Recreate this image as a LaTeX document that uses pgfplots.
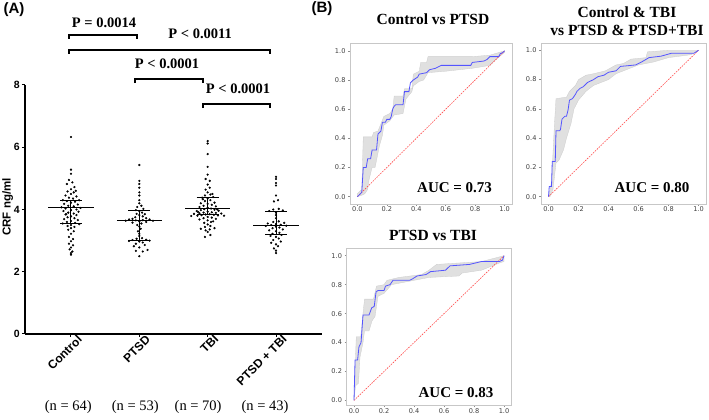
\documentclass[border=0pt]{standalone}
\usepackage{pgfplots}
\usepackage{pgfplotstable}
\pgfplotsset{compat=1.18}
\usepackage{fontspec}
\setmainfont{Liberation Serif}
\newfontfamily\arial{Liberation Sans}
\newfontfamily\dejavu{DejaVu Sans}

\pgfplotstableread{
x y
0 6.33
0 5.28
0 5.15
-0.03 4.95
0.02 4.87
-0.06 4.82
0.05 4.72
0 4.65
0.07 4.6
-0.05 4.58
0.04 4.55
0 4.5
-0.08 4.45
0.08 4.42
-0.03 4.38
0.03 4.35
-0.12 4.3
0.12 4.3
-0.06 4.27
0.06 4.25
0 4.22
-0.1 4.18
0.1 4.16
-0.04 4.12
0.04 4.1
-0.14 4.07
0.14 4.05
-0.08 4.03
0.08 4.0
0 3.98
-0.11 3.95
0.11 3.93
-0.04 3.9
0.04 3.87
-0.07 3.85
-0.08 3.84
0.08 3.82
0 3.78
-0.05 3.75
0.05 3.72
-0.1 3.69
0.1 3.66
0 3.63
-0.06 3.6
0.06 3.57
-0.12 3.55
0.12 3.53
0 3.5
-0.05 3.47
0.05 3.44
0 3.4
-0.04 3.35
0.04 3.3
0 3.22
-0.03 3.12
0.03 3.05
0 2.98
-0.03 2.9
0.03 2.85
0 2.78
-0.02 2.72
0.02 2.65
0 2.6
0 2.55
}\ctrl

\pgfplotstableread{
x y
0 5.43
0 4.92
0 4.82
0 4.7
0 4.55
0 4.45
0 4.3
0 4.2
0.03 4.12
-0.03 4.08
0.06 4.02
-0.05 3.98
0 3.95
0.04 3.9
-0.04 3.86
0.08 3.85
0 3.82
0.05 3.78
-0.06 3.75
0.1 3.72
-0.1 3.7
0.15 3.68
-0.15 3.68
0.05 3.66
-0.05 3.65
0.2 3.64
-0.2 3.64
0 3.62
0.1 3.6
-0.1 3.58
0.03 3.55
-0.03 3.5
0 3.45
0.02 3.38
-0.02 3.3
0 3.22
0 3.15
0.04 3.08
-0.04 3.06
0.1 3.03
-0.1 3.02
0.15 3.0
-0.15 2.99
0 2.97
0.05 2.94
-0.05 2.9
0.08 2.86
-0.08 2.82
0 2.78
0.12 2.7
-0.05 2.67
0.05 2.65
0 2.5
}\ptsd

\pgfplotstableread{
x y
0 6.2
0 6.12
0 5.78
0 5.37
0 5.12
-0.03 4.98
0.03 4.92
0 4.8
0.03 4.7
-0.03 4.64
0 4.55
0.07 4.5
0.04 4.48
-0.04 4.45
0.08 4.4
-0.08 4.38
0 4.35
-0.07 4.33
0.04 4.3
-0.04 4.27
0.1 4.22
-0.1 4.2
0 4.18
0.06 4.15
-0.06 4.12
0.12 4.1
-0.12 4.08
0 4.06
0.05 4.03
-0.05 4.01
0.14 4.0
0.1 3.99
-0.1 3.98
0.16 3.96
-0.16 3.95
0 3.93
-0.14 3.92
0.06 3.91
-0.06 3.9
0.12 3.89
-0.12 3.88
0.2 3.87
-0.2 3.86
0.03 3.85
-0.03 3.84
0.09 3.83
-0.09 3.82
0.15 3.81
-0.15 3.8
0.24 3.8
-0.24 3.79
0 3.76
0.06 3.74
-0.06 3.72
0.12 3.7
-0.12 3.68
0 3.65
0.08 3.62
0.05 3.6
-0.05 3.57
0 3.52
0.04 3.47
-0.04 3.44
0.1 3.4
-0.1 3.38
0.03 3.36
-0.03 3.33
0 3.28
0.04 3.18
-0.04 3.12
}\tbi

\pgfplotstableread{
x y
0 5.05
0 4.98
0 4.85
0 4.77
0 4.45
0.03 4.3
-0.03 4.26
0.04 4.02
-0.04 4.0
0.1 3.97
-0.1 3.95
0 3.9
0 3.82
0 3.72
0.04 3.62
-0.04 3.6
0.12 3.57
-0.12 3.55
0 3.53
0.07 3.51
-0.07 3.5
0.15 3.48
-0.15 3.47
0 3.45
0.05 3.42
-0.05 3.4
0.1 3.36
-0.1 3.33
0 3.3
0.05 3.25
-0.05 3.22
0.08 3.18
-0.08 3.15
0 3.12
0.04 3.07
-0.04 3.02
0.07 2.97
-0.07 2.93
0 2.88
0.03 2.82
-0.03 2.75
0 2.68
0 2.6
}\both

\definecolor{rocblue}{rgb}{0.33,0.33,1.0}
\definecolor{rocred}{rgb}{1.0,0.3,0.3}
\definecolor{band}{gray}{0.88}

\pgfplotsset{
  roc/.style={
    scale only axis, anchor=south west,
    xmin=-0.05, xmax=1.05, ymin=-0.05, ymax=1.05,
    xtick={0,0.2,0.4,0.6,0.8,1}, xticklabels={0.0,0.2,0.4,0.6,0.8,1.0},
    ytick={0,0.2,0.4,0.6,0.8,1}, yticklabels={0.0,0.2,0.4,0.6,0.8,1.0},
    tick label style={font=\dejavu\fontsize{6.6}{7}\selectfont, text=black!75},
    axis line style={black!22, line width=0.9pt},
    tick align=outside, major tick length=2pt,
    tick style={black!45, line width=0.5pt},
    xtick pos=bottom, ytick pos=left,
    xticklabel style={yshift=2.5pt},
    yticklabel style={xshift=1pt},
  },
  bandstyle/.style={fill=band, draw=black!20, line width=0.3pt},
  curvestyle/.style={rocblue, line width=0.8pt},
  diagstyle/.style={rocred, line width=0.6pt, dash pattern=on 1.6pt off 1.1pt},
}

\begin{document}
\begin{tikzpicture}[x=1pt,y=1pt]
\path[use as bounding box] (0,0) rectangle (709,420);

% ---------------- Panel A ----------------
\begin{axis}[
  at={(25pt,86pt)}, anchor=south west, scale only axis,
  width=297pt, height=249pt,
  xmin=-0.673, xmax=3.673, ymin=0, ymax=8,
  axis x line*=bottom, axis y line*=left,
  axis line style={line width=1.2pt},
  xtick={0,1,2,3}, xticklabels={Control,PTSD,TBI,PTSD + TBI},
  ytick={0,2,4,6,8}, yticklabels={0,2,4,6,8},
  tick align=outside, major tick length=3pt,
  tick style={line width=1pt, black},
  xticklabel style={rotate=45, anchor=north east, font=\arial\bfseries\fontsize{12}{12}\selectfont, inner sep=1pt, xshift=7pt, yshift=-1pt},
  yticklabel style={font=\arial\bfseries\fontsize{10.5}{10.5}\selectfont, inner sep=1pt, xshift=-1pt},
  ylabel={CRF ng/ml},
  ylabel style={font=\arial\bfseries\fontsize{11.5}{11.5}\selectfont, at={(axis description cs:-0.058,0.51)}, anchor=center, rotate=0},
  clip=false,
]
\addplot[only marks, mark=*, mark size=0.9pt, black] table[x expr=\thisrow{x}, y=y] {\ctrl};
\addplot[only marks, mark=*, mark size=0.9pt, black] table[x expr=\thisrow{x}+1, y=y] {\ptsd};
\addplot[only marks, mark=*, mark size=0.9pt, black] table[x expr=\thisrow{x}+2, y=y] {\tbi};
\addplot[only marks, mark=*, mark size=0.9pt, black] table[x expr=\thisrow{x}+3, y=y] {\both};

% medians and IQR
\addplot[black, line width=1pt] coordinates {(-0.33,4.06) (0.33,4.06)};
\addplot[black, line width=1pt] coordinates {(-0.16,4.29) (0.16,4.29)};
\addplot[black, line width=1pt] coordinates {(-0.16,3.54) (0.16,3.54)};
\addplot[black, line width=1pt] coordinates {(0,3.54) (0,4.29)};

\addplot[black, line width=1pt] coordinates {(0.67,3.64) (1.33,3.64)};
\addplot[black, line width=1pt] coordinates {(0.84,3.97) (1.16,3.97)};
\addplot[black, line width=1pt] coordinates {(0.84,3.02) (1.16,3.02)};
\addplot[black, line width=1pt] coordinates {(1,3.02) (1,3.97)};

\addplot[black, line width=1pt] coordinates {(1.67,4.03) (2.33,4.03)};
\addplot[black, line width=1pt] coordinates {(1.84,4.39) (2.16,4.39)};
\addplot[black, line width=1pt] coordinates {(1.84,3.84) (2.16,3.84)};
\addplot[black, line width=1pt] coordinates {(2,3.84) (2,4.39)};

\addplot[black, line width=1pt] coordinates {(2.67,3.49) (3.33,3.49)};
\addplot[black, line width=1pt] coordinates {(2.84,3.95) (3.16,3.95)};
\addplot[black, line width=1pt] coordinates {(2.84,3.2) (3.16,3.2)};
\addplot[black, line width=1pt] coordinates {(3,3.2) (3,3.95)};

% significance brackets
\draw[line width=1.3pt] (axis cs:-0.03,9.48) -- (axis cs:-0.03,9.61) -- (axis cs:0.966,9.61) -- (axis cs:0.966,9.48);
\draw[line width=1.3pt] (axis cs:-0.03,9.0) -- (axis cs:-0.03,9.12) -- (axis cs:2.91,9.12) -- (axis cs:2.91,9.0);
\draw[line width=1.3pt] (axis cs:0.937,8.06) -- (axis cs:0.937,8.19) -- (axis cs:1.93,8.19) -- (axis cs:1.93,8.06);
\draw[line width=1.3pt] (axis cs:1.93,7.26) -- (axis cs:1.93,7.39) -- (axis cs:2.91,7.39) -- (axis cs:2.91,7.26);
\node[font=\bfseries\fontsize{14.5}{14.5}\selectfont] at (axis cs:0.483,9.99) {P = 0.0014};
\node[font=\bfseries\fontsize{14.5}{14.5}\selectfont] at (axis cs:1.89,9.64) {P < 0.0011};
\node[font=\bfseries\fontsize{14.5}{14.5}\selectfont] at (axis cs:1.405,8.67) {P < 0.0001};
\node[font=\bfseries\fontsize{14.5}{14.5}\selectfont] at (axis cs:2.444,7.87) {P < 0.0001};

% n labels
\node[font=\fontsize{14.5}{14.5}\selectfont] at (axis cs:-0.04,-2.35) {(n = 64)};
\node[font=\fontsize{14.5}{14.5}\selectfont] at (axis cs:0.94,-2.35) {(n = 53)};
\node[font=\fontsize{14.5}{14.5}\selectfont] at (axis cs:1.86,-2.35) {(n = 70)};
\node[font=\fontsize{14.5}{14.5}\selectfont] at (axis cs:2.84,-2.35) {(n = 43)};
\end{axis}

\node[font=\arial\bfseries\fontsize{15}{15}\selectfont] at (14,410) {(A)};
\node[font=\arial\bfseries\fontsize{15}{15}\selectfont] at (322,411) {(B)};

% ---------------- ROC 1 ----------------
\begin{axis}[roc, at={(350pt,216pt)}, width=162pt, height=160.5pt]
\addplot[bandstyle] coordinates {
(0,0.02) (0.03,0.05) (0.04,0.41) (0.1,0.41) (0.11,0.44) (0.14,0.45) (0.16,0.5) (0.18,0.55) (0.22,0.57) (0.24,0.6) (0.25,0.69) (0.31,0.69) (0.32,0.74) (0.37,0.74) (0.38,0.84) (0.42,0.86) (0.43,0.92) (0.47,0.92) (0.48,0.96) (0.78,0.96) (0.9,0.97) (1,1)
(1,0.99) (0.93,0.93) (0.9,0.9) (0.78,0.88) (0.6,0.86) (0.48,0.85) (0.45,0.8) (0.42,0.79) (0.38,0.76) (0.37,0.72) (0.33,0.67) (0.31,0.57) (0.25,0.56) (0.22,0.52) (0.18,0.49) (0.17,0.42) (0.15,0.35) (0.14,0.3) (0.12,0.2) (0.1,0.2) (0.08,0.12) (0.07,0.05) (0.05,0.02) (0.03,0.01) (0,0)
} -- cycle;
\addplot[diagstyle] coordinates {(0,0) (1,1)};
\addplot[curvestyle] coordinates {
(0,0) (0.01,0.01) (0.02,0.02) (0.03,0.03) (0.04,0.2) (0.06,0.2) (0.07,0.26) (0.09,0.26) (0.1,0.32) (0.13,0.32) (0.14,0.43) (0.15,0.44) (0.16,0.45) (0.17,0.51) (0.19,0.51) (0.2,0.53) (0.22,0.53) (0.23,0.55) (0.24,0.6) (0.25,0.62) (0.26,0.63) (0.31,0.63) (0.32,0.72) (0.35,0.72) (0.36,0.78) (0.38,0.8) (0.41,0.82) (0.42,0.84) (0.47,0.85) (0.49,0.87) (0.53,0.88) (0.55,0.89) (0.57,0.9) (0.77,0.9) (0.78,0.92) (0.86,0.93) (0.88,0.94) (0.9,0.96) (0.96,0.96) (0.97,0.98) (0.99,0.99) (1,1)
};
\node[font=\bfseries\fontsize{15}{15}\selectfont] at (axis cs:0.66,0.06) {AUC = 0.73};
\end{axis}
\node[font=\bfseries\fontsize{15.5}{15.5}\selectfont] at (433,401) {Control vs PTSD};

% ---------------- ROC 2 ----------------
\begin{axis}[roc, at={(541pt,216pt)}, width=165pt, height=161pt]
\addplot[bandstyle] coordinates {
(0,0) (0.02,0.1) (0.03,0.3) (0.04,0.5) (0.05,0.67) (0.12,0.68) (0.14,0.72) (0.18,0.76) (0.2,0.8) (0.25,0.83) (0.3,0.84) (0.38,0.86) (0.45,0.9) (0.5,0.91) (0.55,0.94) (0.65,0.95) (0.66,0.99) (0.8,1.0) (1,1)
(1,1) (0.95,0.97) (0.8,0.95) (0.7,0.92) (0.6,0.9) (0.5,0.86) (0.45,0.84) (0.4,0.8) (0.3,0.76) (0.25,0.72) (0.2,0.66) (0.17,0.6) (0.15,0.5) (0.12,0.4) (0.1,0.32) (0.07,0.25) (0.05,0.23) (0.03,0.05) (0.01,0.0) (0,0)
} -- cycle;
\addplot[diagstyle] coordinates {(0,0) (1,1)};
\addplot[curvestyle] coordinates {
(0,0) (0.005,0.07) (0.02,0.07) (0.025,0.24) (0.045,0.24) (0.05,0.45) (0.075,0.45) (0.08,0.46) (0.09,0.53) (0.11,0.55) (0.12,0.55) (0.13,0.59) (0.14,0.66) (0.16,0.67) (0.18,0.7) (0.19,0.72) (0.21,0.74) (0.23,0.75) (0.26,0.78) (0.3,0.8) (0.33,0.82) (0.37,0.83) (0.4,0.85) (0.45,0.86) (0.48,0.89) (0.58,0.9) (0.62,0.92) (0.67,0.95) (0.75,0.96) (0.82,0.98) (0.97,0.98) (1,1)
};
\node[font=\bfseries\fontsize{15}{15}\selectfont] at (axis cs:0.69,0.06) {AUC = 0.80};
\end{axis}
\node[font=\bfseries\fontsize{15.5}{15.5}\selectfont] at (627,408) {Control \& TBI};
\node[font=\bfseries\fontsize{15.5}{15.5}\selectfont] at (627,390) {vs PTSD \& PTSD+TBI};

% ---------------- ROC 3 ----------------
\begin{axis}[roc, at={(346.5pt,14.5pt)}, width=165pt, height=157pt, ymin=-0.035]
\addplot[bandstyle] coordinates {
(0,0.0) (0.01,0.3) (0.015,0.44) (0.045,0.44) (0.06,0.6) (0.07,0.7) (0.13,0.7) (0.15,0.79) (0.2,0.8) (0.22,0.83) (0.3,0.85) (0.45,0.87) (0.5,0.9) (0.55,0.94) (0.85,0.96) (1,1)
(1,0.96) (0.97,0.95) (0.85,0.9) (0.72,0.88) (0.7,0.86) (0.5,0.85) (0.35,0.82) (0.25,0.8) (0.2,0.74) (0.16,0.72) (0.14,0.58) (0.12,0.55) (0.1,0.48) (0.07,0.48) (0.06,0.4) (0.04,0.3) (0.03,0.12) (0.01,0.1) (0,0)
} -- cycle;
\addplot[diagstyle] coordinates {(0,0) (1,1)};
\addplot[curvestyle] coordinates {
(0,0) (0.007,0.28) (0.024,0.28) (0.033,0.37) (0.047,0.4) (0.06,0.59) (0.1,0.59) (0.118,0.64) (0.135,0.65) (0.147,0.75) (0.16,0.76) (0.2,0.76) (0.21,0.79) (0.24,0.8) (0.26,0.83) (0.37,0.83) (0.39,0.84) (0.42,0.86) (0.48,0.87) (0.51,0.89) (0.61,0.9) (0.64,0.93) (0.77,0.94) (0.85,0.96) (0.97,0.96) (0.99,0.97) (1,1)
};
\node[font=\bfseries\fontsize{15}{15}\selectfont] at (axis cs:0.68,0.055) {AUC = 0.83};
\end{axis}
\node[font=\bfseries\fontsize{15.5}{15.5}\selectfont] at (433,185) {PTSD vs TBI};

\end{tikzpicture}
\end{document}
